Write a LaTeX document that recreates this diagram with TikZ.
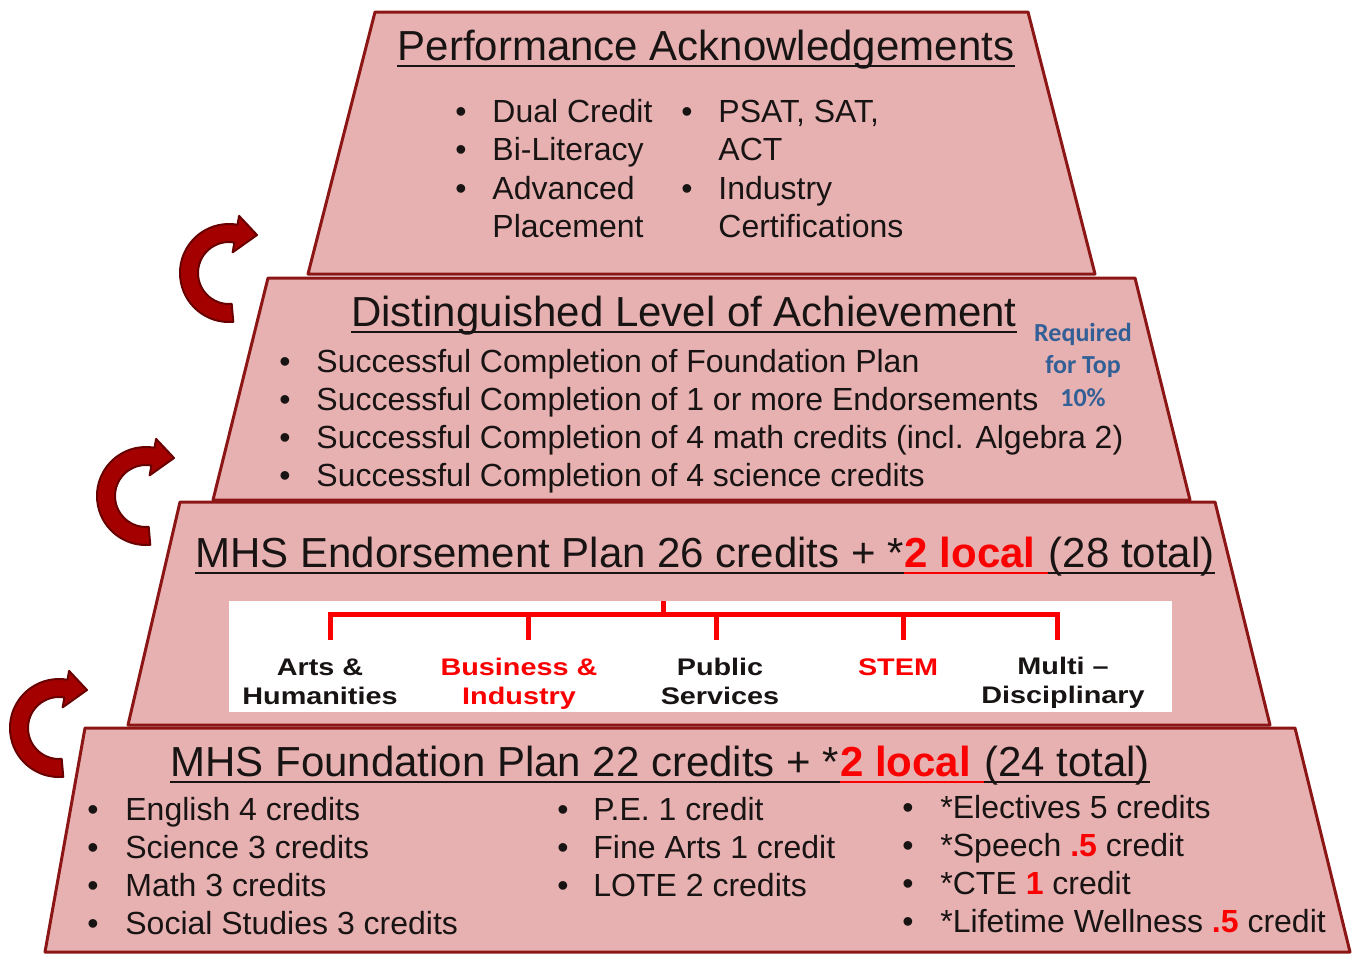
\documentclass[tikz,border=0pt]{standalone}
\usepackage{fontspec}
\setmainfont{Liberation Sans}
\newfontfamily\calfont{Carlito}
\newfontfamily\widefont[FakeStretch=1.2]{Liberation Sans}
\usetikzlibrary{calc}
\definecolor{tierfill}{RGB}{232,177,177}
\definecolor{tierline}{RGB}{140,22,22}
\definecolor{arrowfill}{RGB}{165,0,0}
\definecolor{arrowline}{RGB}{105,0,0}
\definecolor{reqblue}{RGB}{50,96,150}
\definecolor{hotred}{RGB}{250,0,0}
\definecolor{ink}{RGB}{25,20,20}
\newcommand\mybul[5]{%
  \node[bul] (#1b) at (#2,#4) {•};
  \node[txt] (#1) at (#3,#4) {#5};}
\newcommand\mytxt[4]{\node[txt] (#1) at (#2,#3) {#4};}
\newcommand\redb[1]{\textcolor{hotred}{\bfseries #1}}
\newcommand\curvarrow[3]{%
  \begin{scope}[shift={(#2,#3)}]
    \filldraw[curv] (85:49) arc[start angle=85, end angle=280, radius=49]
      -- (280:58) -- (28,-38) -- (280:21) -- (280:31)
      arc[start angle=280, end angle=85, radius=31] -- cycle;
    \coordinate (#1) at (0,0);
  \end{scope}}
\begin{document}
\begin{tikzpicture}[x=0.5pt,y=-0.5pt,
  tier/.style={fill=tierfill, draw=tierline, line width=1.5pt, line join=round},
  title/.style={inner sep=0pt, anchor=base west, font=\fontsize{21}{25}\selectfont, text=ink},
  txt/.style={inner sep=0pt, anchor=base west, font=\fontsize{16}{19}\selectfont, text=ink},
  bul/.style={inner sep=0pt, anchor=base, font=\fontsize{16}{19}\selectfont, text=ink},
  ulin/.style={draw=ink, line width=1.2pt},
  rulin/.style={draw=hotred, line width=1.2pt},
  tree/.style={draw=hotred, line width=2.5pt},
  endo/.style={inner sep=0pt, anchor=base, font=\widefont\bfseries\fontsize{12}{14}\selectfont, text=ink},
  endored/.style={endo, text=hotred},
  req/.style={inner sep=0pt, anchor=base, font=\calfont\bfseries\fontsize{13}{16}\selectfont, text=reqblue},
  curv/.style={fill=arrowfill, draw=arrowline, line width=1pt, line join=round}]
\useasboundingbox (0,0) rectangle (1352,954);

% tiers
\filldraw[tier] (375,12) -- (1028,12) -- (1095,274) -- (308,274) -- cycle;
\filldraw[tier] (268,278) -- (1135,278) -- (1190,500) -- (213,500) -- cycle;
\filldraw[tier] (180,502) -- (1215,502) -- (1270,725) -- (128,725) -- cycle;
\filldraw[tier] (85,728) -- (1295,728) -- (1350,952) -- (45,952) -- cycle;

% arrows
\curvarrow{ar1}{229}{273}
\curvarrow{ar2}{146}{496}
\curvarrow{ar3}{59}{728}

% Tier 1
\node[title, anchor=base] (pa) at (706,60) {Performance Acknowledgements};
\draw[ulin] ([yshift=-3pt]pa.base west) -- ([yshift=-3pt]pa.base east);
\mybul{pa1}{461}{492}{122}{Dual Credit}
\mybul{pa2}{461}{492}{160.5}{Bi-Literacy}
\mybul{pa3}{461}{492}{199}{Advanced}
\mytxt{pa4}{492}{237.5}{Placement}
\mybul{pb1}{687}{718}{122}{PSAT, SAT,}
\mytxt{pb2}{718}{160.5}{ACT}
\mybul{pb3}{687}{718}{199}{Industry}
\mytxt{pb4}{718}{237.5}{Certifications}

% Tier 2
\node[title, anchor=base] (dl) at (684,326) {Distinguished Level of Achievement};
\draw[ulin] ([yshift=-3pt]dl.base west) -- ([yshift=-3pt]dl.base east);
\mybul{d1}{285}{316}{372}{Successful Completion of Foundation Plan}
\mybul{d2}{285}{316}{410}{Successful Completion of 1 or more Endorsements}
\mybul{d3}{285}{316}{448}{Successful Completion of 4 math credits (incl. Algebra 2)}
\mybul{d4}{285}{316}{486}{Successful Completion of 4 science credits}
\node[req] (rq1) at (1083,341) {Required};
\node[req] (rq2) at (1083,373) {for Top};
\node[req] (rq3) at (1083,406) {10\%};

% Tier 3
\node[title] (ea) at (195,567) {MHS Endorsement Plan 26 credits + *};
\node[title, text=hotred, font=\bfseries\fontsize{21}{25}\selectfont] (eb) at (ea.base east) {2 local\kern0.3em};
\node[title] (ec) at (eb.base east) {(28 total)};
\draw[ulin] ([yshift=-3pt]ea.base west) -- ([yshift=-3pt]ec.base east);
\draw[rulin] ([yshift=-3pt]eb.base west) -- ([yshift=-3pt]eb.base east);

\fill[white] (229,601) rectangle (1172,712);
\coordinate (tt) at (663,601);
\coordinate (tj) at (663,614);
\coordinate (tl) at (330,614);
\coordinate (tr) at (1057,614);
\node[endo] (e1a) at (320,675.5) {Arts \&};
\node[endo] (e1b) at (320,704) {Humanities};
\node[endored] (e2a) at (519,675.5) {Business \&};
\node[endored] (e2b) at (519,704) {Industry};
\node[endo] (e3a) at (720,675.5) {Public};
\node[endo] (e3b) at (720,704) {Services};
\node[endored] (e4a) at (898,675.5) {STEM};
\node[endo] (e5a) at (1063,674) {Multi –};
\node[endo] (e5b) at (1063,703) {Disciplinary};
\draw[tree] (tt) -- (tj);
\draw[tree, line cap=rect] (tl) -- (tr);
\draw[tree] (tl) -- (330,640);
\draw[tree] (528,614) -- (528,640);
\draw[tree] (716,614) -- (716,640);
\draw[tree] (903,614) -- (903,640);
\draw[tree] (tr) -- (1057,640);

% Tier 4
\node[title] (fa) at (170,776) {MHS Foundation Plan 22 credits + *};
\node[title, text=hotred, font=\bfseries\fontsize{21}{25}\selectfont] (fb) at (fa.base east) {2 local\kern0.3em};
\node[title] (fc) at (fb.base east) {(24 total)};
\draw[ulin] ([yshift=-3pt]fa.base west) -- ([yshift=-3pt]fc.base east);
\draw[rulin] ([yshift=-3pt]fb.base west) -- ([yshift=-3pt]fb.base east);

\mybul{f1}{93}{125}{820}{English 4 credits}
\mybul{f2}{93}{125}{858}{Science 3 credits}
\mybul{f3}{93}{125}{896}{Math 3 credits}
\mybul{f4}{93}{125}{934}{Social Studies 3 credits}
\mybul{g1}{563}{593}{820}{P.E. 1 credit}
\mybul{g2}{563}{593}{858}{Fine Arts 1 credit}
\mybul{g3}{563}{593}{896}{LOTE 2 credits}
\mybul{h1}{908}{940}{818}{*Electives 5 credits}
\mybul{h2}{908}{940}{856}{*Speech \redb{.5} credit}
\mybul{h3}{908}{940}{894}{*CTE \redb{1} credit}
\mybul{h4}{908}{940}{932}{*Lifetime Wellness \redb{.5} credit}
\end{tikzpicture}
\end{document}
